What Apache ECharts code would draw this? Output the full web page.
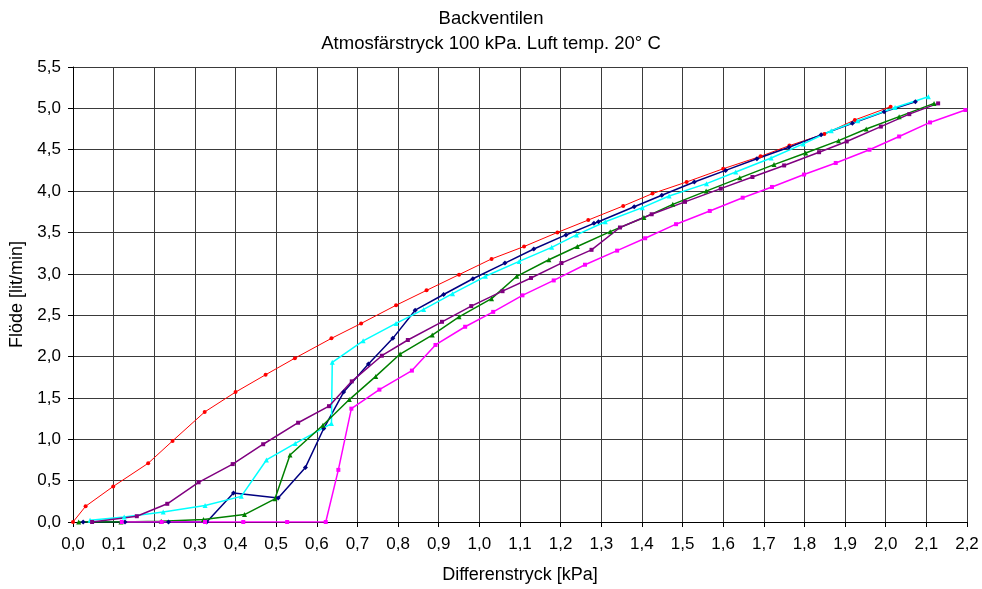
<!DOCTYPE html>
<html><head><meta charset="utf-8">
<script src="https://cdn.jsdelivr.net/npm/echarts@6/dist/echarts.min.js"></script>
<style>html,body{margin:0;padding:0;background:#fff}#c{width:982px;height:589px}</style>
</head><body><div id="c"></div>
<script>
const titleLines = ['Backventilen', 'Atmosfärstryck 100 kPa. Luft temp. 20° C'];
const xTicks = {min: 0, max: 2.2, interval: 0.1};
const yTicks = {min: 0, max: 5.5, interval: 0.5};

const redX = [0, 0.031, 0.099, 0.185, 0.245, 0.324, 0.40, 0.474, 0.546, 0.636, 0.709, 0.795, 0.870, 0.950, 1.03, 1.11, 1.192, 1.268, 1.354, 1.426, 1.51, 1.60, 1.692, 1.763, 1.849, 1.924, 2.012];
const redY = [0, 0.19, 0.43, 0.71, 0.98, 1.33, 1.57, 1.78, 1.98, 2.22, 2.40, 2.62, 2.80, 2.99, 3.18, 3.33, 3.50, 3.65, 3.82, 3.97, 4.11, 4.27, 4.42, 4.55, 4.69, 4.86, 5.02];

const navyX = [0.025, 0.128, 0.235, 0.329, 0.395, 0.505, 0.572, 0.617, 0.666, 0.727, 0.787, 0.842, 0.912, 0.984, 1.063, 1.134, 1.213, 1.282, 1.293, 1.381, 1.449, 1.529, 1.606, 1.683, 1.762, 1.841, 1.918, 1.996, 2.073];
const navyY = [0, 0, 0, 0, 0.35, 0.29, 0.66, 1.13, 1.57, 1.91, 2.22, 2.56, 2.75, 2.94, 3.13, 3.30, 3.47, 3.61, 3.63, 3.81, 3.95, 4.11, 4.25, 4.39, 4.53, 4.68, 4.82, 4.96, 5.08];

const cyanX = [0.042, 0.126, 0.222, 0.325, 0.414, 0.476, 0.547, 0.636, 0.638, 0.714, 0.795, 0.863, 0.934, 1.015, 1.098, 1.178, 1.239, 1.31, 1.401, 1.467, 1.559, 1.631, 1.718, 1.797, 1.866, 1.931, 2.023, 2.105];
const cyanY = [0.02, 0.06, 0.12, 0.20, 0.31, 0.75, 0.95, 1.19, 1.93, 2.19, 2.40, 2.57, 2.76, 2.97, 3.15, 3.32, 3.47, 3.63, 3.80, 3.94, 4.09, 4.23, 4.40, 4.57, 4.73, 4.85, 5.01, 5.14];

const greenX = [0.014, 0.118, 0.217, 0.321, 0.422, 0.497, 0.534, 0.615, 0.68, 0.745, 0.805, 0.884, 0.95, 1.03, 1.092, 1.171, 1.241, 1.322, 1.405, 1.476, 1.558, 1.641, 1.725, 1.803, 1.884, 1.952, 2.033, 2.119];
const greenY = [0, 0, 0.01, 0.03, 0.09, 0.28, 0.81, 1.17, 1.48, 1.76, 2.03, 2.26, 2.48, 2.70, 2.97, 3.17, 3.33, 3.51, 3.68, 3.84, 4.00, 4.16, 4.32, 4.46, 4.61, 4.75, 4.90, 5.06];

const purpleX = [0.047, 0.157, 0.232, 0.309, 0.393, 0.468, 0.554, 0.63, 0.686, 0.760, 0.824, 0.908, 0.98, 1.057, 1.127, 1.202, 1.276, 1.346, 1.424, 1.506, 1.594, 1.672, 1.75, 1.836, 1.904, 1.988, 2.058, 2.129];
const purpleY = [0, 0.07, 0.22, 0.48, 0.70, 0.94, 1.20, 1.40, 1.70, 2.01, 2.20, 2.42, 2.61, 2.79, 2.95, 3.13, 3.29, 3.56, 3.72, 3.87, 4.03, 4.17, 4.31, 4.47, 4.60, 4.78, 4.93, 5.06];

const magentaX = [0.12, 0.218, 0.325, 0.419, 0.527, 0.622, 0.653, 0.685, 0.754, 0.834, 0.892, 0.965, 1.034, 1.106, 1.183, 1.26, 1.339, 1.408, 1.484, 1.567, 1.648, 1.72, 1.799, 1.877, 1.96, 2.033, 2.109, 2.196];
const magentaY = [0, 0, 0, 0, 0, 0, 0.63, 1.37, 1.60, 1.83, 2.14, 2.36, 2.54, 2.74, 2.92, 3.11, 3.28, 3.43, 3.60, 3.76, 3.92, 4.05, 4.20, 4.34, 4.50, 4.66, 4.83, 4.98];

const pairs = (xs, ys) => xs.map((x, i) => [x, ys[i]]);
const fmt = v => (Math.round(v * 10) / 10).toFixed(1).replace('.', ',');
const FONT = 'Liberation Sans, Arial, sans-serif';
const FS = 18;

function mk(name, xs, ys, color, symbol, size, width) {
  return {
    name, type: 'line', data: pairs(xs, ys), color,
    symbol, symbolSize: size, showSymbol: true,
    lineStyle: {width: width, color},
    itemStyle: {color},
    animation: false, z: 3
  };
}

const chart = echarts.init(document.getElementById('c'), null, {renderer: 'canvas'});
chart.setOption({
  backgroundColor: '#fff',
  animation: false,
  graphic: [
    {type: 'text', x: 491, y: 28, style: {text: titleLines[0], fill: '#000', font: '18.5px ' + FONT, textAlign: 'center', textVerticalAlign: 'bottom'}},
    {type: 'text', x: 491, y: 53, style: {text: titleLines[1], fill: '#000', font: '18.5px ' + FONT, textAlign: 'center', textVerticalAlign: 'bottom'}}
  ],
  grid: {left: 73, right: 15, top: 67, bottom: 62},
  xAxis: {
    type: 'value', min: xTicks.min, max: xTicks.max, interval: xTicks.interval,
    name: 'Differenstryck [kPa]', nameLocation: 'middle', nameGap: 44,
    nameTextStyle: {fontFamily: FONT, fontSize: FS, color: '#000'},
    axisLine: {show: true, onZero: false, lineStyle: {color: '#000', width: 1}},
    axisTick: {show: true, length: 5, lineStyle: {color: '#000'}},
    axisLabel: {formatter: fmt, fontFamily: FONT, fontSize: FS - 1, color: '#000', margin: 14},
    splitLine: {show: true, lineStyle: {color: '#3a3a3a', width: 1}}
  },
  yAxis: {
    type: 'value', min: yTicks.min, max: yTicks.max, interval: yTicks.interval,
    name: 'Flöde [lit/min]', nameLocation: 'middle', nameGap: 45,
    nameTextStyle: {fontFamily: FONT, fontSize: FS, color: '#000'},
    axisLine: {show: true, lineStyle: {color: '#000', width: 1}},
    axisTick: {show: true, length: 5, lineStyle: {color: '#000'}},
    axisLabel: {formatter: fmt, fontFamily: FONT, fontSize: FS - 1, color: '#000', margin: 12},
    splitLine: {show: true, lineStyle: {color: '#3a3a3a', width: 1}}
  },
  series: [
    mk('Serie 1', redX, redY, '#FF0000', 'circle', 4, 1),
    mk('Serie 2', navyX, navyY, '#000080', 'diamond', 5, 1.5),
    mk('Serie 3', cyanX, cyanY, '#00FFFF', 'triangle', 5, 1.5),
    mk('Serie 4', greenX, greenY, '#008000', 'triangle', 5, 1.5),
    mk('Serie 5', purpleX, purpleY, '#800080', 'rect', 4, 1.5),
    mk('Serie 6', magentaX, magentaY, '#FF00FF', 'rect', 4, 1.5)
  ]
});
</script>
</body></html>
